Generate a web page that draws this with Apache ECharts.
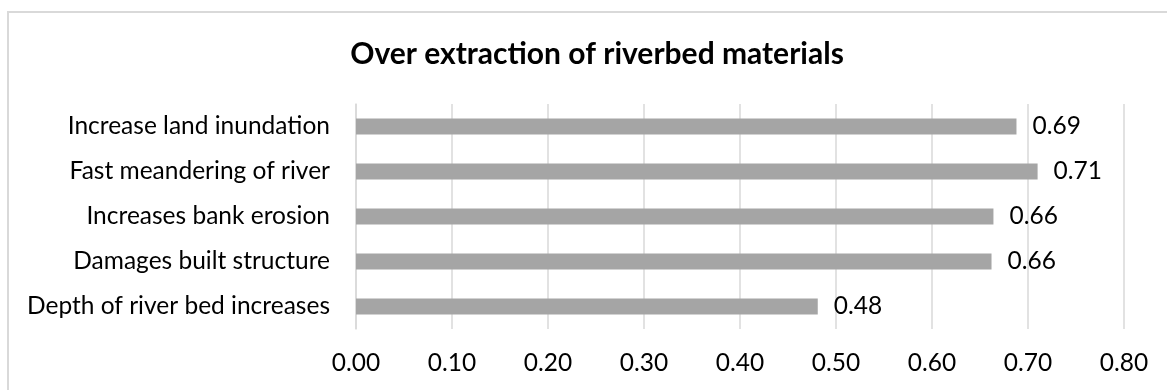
<!DOCTYPE html>
<html>
<head>
<meta charset="utf-8">
<script src="https://cdn.jsdelivr.net/npm/echarts@6/dist/echarts.min.js"></script>
<style>
html,body{margin:0;padding:0;background:#fff;}
#chart{width:1167px;height:390px;}
</style>
</head>
<body>
<div id="chart"></div>
<script>
const title = 'Over extraction of riverbed materials';
const categories = ['Increase land inundation','Fast meandering of river','Increases bank erosion','Damages built structure','Depth of river bed increases'];
const values = [0.688, 0.710, 0.664, 0.662, 0.481];
const axisMin = 0, axisMax = 0.8, axisStep = 0.1;

const FONT = 'Lato';
const chart = echarts.init(document.getElementById('chart'), null, {renderer:'canvas'});
chart.setOption({
  animation:false,
  backgroundColor:'#fff',
  title:{
    text:title, left:592, top:34, textAlign:'center',
    textStyle:{fontFamily:FONT, fontWeight:'bold', fontSize:30, color:'#000'}
  },
  graphic:[{type:'rect', shape:{x:8,y:12,width:1200,height:420}, style:{fill:'none', stroke:'#d9d9d9', lineWidth:2}}],
  grid:{left:356, right:43, top:104, bottom:61, containLabel:false},
  xAxis:{
    type:'value', min:axisMin, max:axisMax, interval:axisStep,
    axisLine:{show:false}, axisTick:{show:false},
    splitLine:{show:true, lineStyle:{color:'#d9d9d9', width:1.5}},
    axisLabel:{fontFamily:FONT, fontSize:24.5, color:'#000', margin:22, formatter:v=>v.toFixed(2)}
  },
  yAxis:{
    type:'category', data:categories, inverse:true,
    axisLine:{show:true, lineStyle:{color:'#d9d9d9', width:1.5}}, axisTick:{show:false},
    axisLabel:{fontFamily:FONT, fontSize:24.5, color:'#000', margin:26}
  },
  series:[{
    type:'bar', data:values, barWidth:16,
    itemStyle:{color:'#a5a5a5'},
    label:{show:true, position:'right', distance:16, fontFamily:FONT, fontSize:24.5, color:'#000', formatter:p=>p.value.toFixed(2)}
  }]
});
</script>
</body>
</html>
